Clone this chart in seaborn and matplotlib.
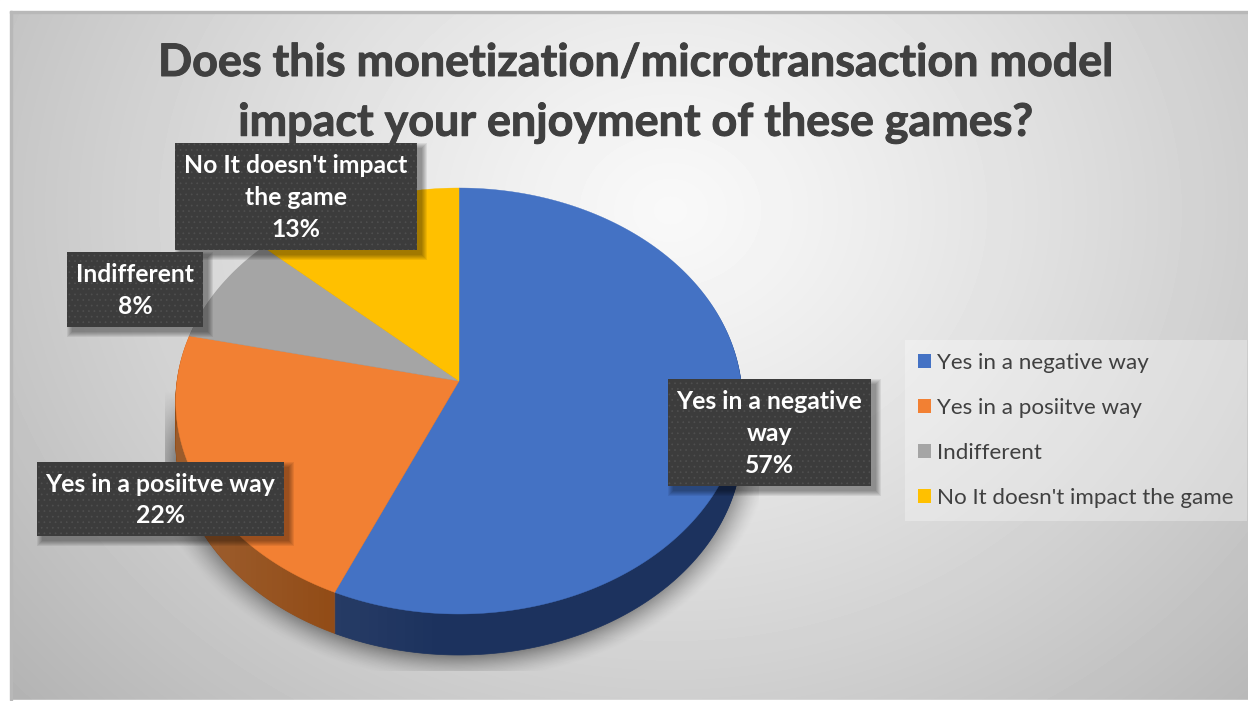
import numpy as np
import matplotlib
matplotlib.use("Agg")
import matplotlib.pyplot as plt
import matplotlib.patheffects as pe
from matplotlib.patches import Polygon, Rectangle, Patch
from matplotlib.transforms import Affine2D
import seaborn as sns

categories = ["Yes in a negative way", "Yes in a posiitve way", "Indifferent", "No It doesn't impact the game"]
shares = [56.6, 21.9, 8.3, 13.2]
hex_colors = ["#4472C4", "#F28033", "#A5A5A5", "#FFC000"]
side_colors = ["#1C325E", "#924C17", "#6A6A6A", "#A07A00"]
label_texts = ["Yes in a negative\nway\n57%", "Yes in a posiitve way\n22%", "Indifferent\n8%", "No It doesn't impact\nthe game\n13%"]
title_lines = ["Does this monetization/microtransaction model", "impact your enjoyment of these games?"]

W, H = 1248, 701
APEX_X, APEX_Y = 459, 381
DEPTH = 41
# perspective of the tilted disc
K, SY, SX = 0.0939, 211.1, 282.0

sns.set_theme(style="white")
plt.rcParams["font.family"] = ["Lato", "DejaVu Sans"]
plt.rcParams["hatch.linewidth"] = 0.5

palette = sns.color_palette(hex_colors)
sides = sns.color_palette(side_colors)

fig = plt.figure(figsize=(W / 100, H / 100), dpi=100, facecolor="white")
ax = fig.add_axes([0, 0, 1, 1])


def project(pts):
    w = 1 + K * pts[:, 1]
    return np.column_stack([APEX_X + SX * pts[:, 0] / w, APEX_Y - SY * pts[:, 1] / w])


wedges, _ = ax.pie(shares, startangle=90, counterclock=False, radius=1, colors=palette)
outlines = []
for wedge in wedges:
    # scale up first so the arcs flatten finely
    path = wedge.get_patch_transform().transform_path(wedge.get_path())
    path = path.transformed(Affine2D().scale(2000))
    outlines.append(project(path.to_polygons(closed_only=False)[0] / 2000))
    wedge.remove()

ax.set_aspect("auto")
ax.set_xlim(0, W)
ax.set_ylim(H, 0)
ax.axis("off")

# background gradient
yy, xx = np.mgrid[0:H, 0:W]
r = np.sqrt(((xx - 670) / 760) ** 2 + ((yy - 210) / 640) ** 2)
bg = np.clip(0.975 - 0.23 * r ** 1.2, 0, 1)
ax.imshow(bg, cmap="gray", vmin=0, vmax=1, extent=(0, W, H, 0), aspect="auto", zorder=0)
ax.add_patch(Rectangle((0, 0), 10, H, color="white", zorder=1))
ax.add_patch(Rectangle((0, 0), W, 11, color="white", zorder=1))
ax.add_patch(Rectangle((0, 700), W, 1, color="white", zorder=1))
ax.add_patch(Rectangle((10, 11), W, 1.5, color="#b8b8b8", zorder=1))
ax.add_patch(Rectangle((10, 11), 1.5, 689, color="#b8b8b8", zorder=1))

# soft shadow under the pie, cut off like the reference
d = np.sqrt(((xx - 458) / 283.0) ** 2 + ((yy - 428) / 226.0) ** 2)
alpha = np.clip((1.12 - d) / 0.12, 0, 1) ** 1.5 * 0.42 * np.clip((yy - 390) / 70, 0, 1)
alpha[(yy > 670) | (xx > 758) | (xx < 165)] = 0
shadow = np.zeros((H, W, 4))
shadow[..., 3] = alpha
ax.imshow(shadow, extent=(0, W, H, 0), aspect="auto", zorder=2)

# side wall, stacked copies shifted down
for step in range(DEPTH, 0, -1):
    for outline, col in zip(outlines, sides):
        ax.add_patch(Polygon(outline + [0, step], closed=True, facecolor=col, edgecolor=col, lw=0.5, zorder=3))

# lighter band on the wall towards the left
t = np.linspace(0, 2 * np.pi, 400)
rim = project(np.column_stack([np.cos(t), np.sin(t)]))
wall = np.vstack([rim[t <= np.pi], rim[t > np.pi] + [0, DEPTH]])
shine = np.ones((H, W, 4))
shine[..., 3] = np.where(xx < 334, 0.09 * np.clip((334 - xx) / 120, 0, 1), 0.05 * np.clip((450 - xx) / 116, 0, 1))
shine_im = ax.imshow(shine, extent=(0, W, H, 0), aspect="auto", zorder=3.5)
shine_im.set_clip_path(Polygon(wall, closed=True, transform=ax.transData))

# top face
for outline, col in zip(outlines, palette):
    ax.add_patch(Polygon(outline, closed=True, facecolor=col, edgecolor=col, lw=0.3, zorder=4))

# title, thickened a little
thick = [pe.withStroke(linewidth=0.7, foreground="#404040")]
ax.text(635, 63, title_lines[0], ha="center", va="center", fontsize=32.3, fontweight="bold", color="#404040",
        path_effects=thick, zorder=5)
ax.text(635, 123, title_lines[1], ha="center", va="center", fontsize=32.3, fontweight="bold", color="#404040",
        path_effects=thick, zorder=5)

# data labels
boxes = [(668, 379, 203, 107), (37, 462, 247, 74), (67, 252, 136, 75), (175, 143, 242, 107)]
for (x, y, w, h), text in zip(boxes, label_texts):
    for grow in [5, 4, 3, 2, 1, 0]:
        ax.add_patch(Rectangle((x + 5 - grow, y + 5 - grow), w + 2 * grow, h + 2 * grow,
                               facecolor="black", alpha=0.07, lw=0, zorder=6))
    ax.add_patch(Rectangle((x, y), w, h, facecolor="#3C3C3C", edgecolor="#4F4F4F", lw=0, hatch="...", zorder=7))
    ax.text(x + w / 2, y + h / 2 + 1, text, ha="center", va="center", fontsize=17.8, fontweight="bold",
            color="white", linespacing=1.46, zorder=8)

# legend
handles = [Patch(facecolor=c, edgecolor="none") for c in palette]
leg = ax.legend(handles, categories, loc="upper left", bbox_to_anchor=(905, 340), bbox_transform=ax.transData,
                fontsize=16.1, labelcolor="#404040", frameon=True, facecolor="white", edgecolor="none", framealpha=0.3,
                fancybox=False, handlelength=0.58, handleheight=0.62, handletextpad=0.3, labelspacing=1.12,
                borderpad=0.57, borderaxespad=0)
leg.set_zorder(9)

fig.savefig("out.png", dpi=100)
